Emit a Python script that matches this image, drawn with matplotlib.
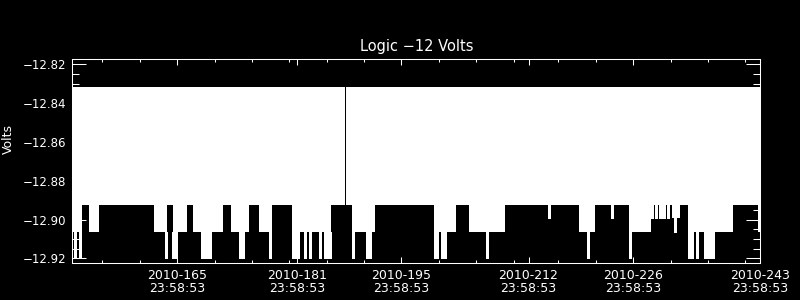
import numpy as np
import matplotlib
matplotlib.use("Agg")
import matplotlib.pyplot as plt
from matplotlib.ticker import FixedLocator

# ---------------- data ----------------
title = "Logic \u221212 Volts"
ylabel = "Volts"

day_start, day_end = 151.0, 243.0          # day-of-year 2010 (at 23:58:53)
level_top = -12.8315     # upper value of the oscillating signal
level_quiet = -12.8925   # lowest value during "quiet" stretches
level_mid = -12.8994     # intermediate quantisation level
level_base = -12.9063    # lowest value during normal stretches
level_dip = -12.9196     # occasional dips

# stretches where the signal only reaches level_quiet
quiet_start = [152.23, 154.54, 163.60, 166.28, 171.09, 174.65, 177.65, 185.58,
               191.46, 202.30, 208.85, 220.89, 228.38, 239.39]
quiet_end = [153.25, 161.90, 164.40, 167.08, 172.20, 175.99, 180.32, 188.35,
             199.36, 204.04, 218.75, 225.44, 233.37, 242.73]
# stretch reaching level_mid
mid_start = [231.23]
mid_end = [232.26]
# data gap
gap_start = [187.41]
gap_end = [187.62]

# isolated dips down to level_dip (from level_base)
dip_days = [151.33, 152.00, 163.47, 164.48, 164.80, 168.28, 168.50, 168.79, 169.06,
            169.33, 173.41, 173.85, 177.42, 180.43, 180.70, 180.96, 181.23, 182.10,
            182.77, 184.11, 184.82, 185.00, 185.22, 185.44, 188.56, 190.35, 190.57,
            190.79, 199.49, 199.72, 200.39, 200.60, 200.83, 206.40, 219.89, 225.61,
            233.50, 233.83, 234.50, 235.61, 235.87, 236.14, 236.41, 236.68]
# dips to level_mid inside quiet stretches
mid_dip_days = [214.78, 223.21, 228.45, 229.08, 229.61, 229.84, 230.14, 230.68]
# dips to level_base inside quiet stretches
base_dip_days = [231.63]

major_days = [165, 181, 195, 212, 226, 243]
major_labels = ["2010-165\n23:58:53", "2010-181\n23:58:53", "2010-195\n23:58:53",
                "2010-212\n23:58:53", "2010-226\n23:58:53", "2010-243\n23:58:53"]
minor_days = [155, 160, 165, 170, 175, 180, 185, 190, 195, 200, 205, 210,
              216, 221, 226, 231, 236, 241]
ytick_values = [-12.82, -12.84, -12.86, -12.88, -12.90, -12.92]
ytick_labels = ["\u221212.82", "\u221212.84", "\u221212.86", "\u221212.88",
                "\u221212.90", "\u221212.92"]
yminor_values = list(np.arange(-12.92, -12.8149, 0.005))
ylim = (-12.9224, -12.8174)

# ---------------- plot ----------------
plt.rcParams['font.family'] = ['DejaVu Sans']
fig = plt.figure(figsize=(8, 3), dpi=100, facecolor='black')
ax = fig.add_axes([0.0906, 0.1233, 0.8598, 0.679])
ax.set_facecolor('black')

edges = sorted(set([day_start, day_end] + quiet_start + quiet_end + mid_start +
                   mid_end + gap_start + gap_end))
lows = []
for a, b in zip(edges[:-1], edges[1:]):
    m = 0.5 * (a + b)
    if any(s < m < e for s, e in zip(gap_start, gap_end)):
        low = level_top
    elif any(s < m < e for s, e in zip(mid_start, mid_end)):
        low = level_mid
    elif any(s < m < e for s, e in zip(quiet_start, quiet_end)):
        low = level_quiet
    else:
        low = level_base
    lows.append(low)
lows.append(lows[-1])
ax.fill_between(edges, level_top, lows, step='post', color='white',
                linewidth=0, antialiased=False, zorder=1)

ax.vlines(dip_days, level_base, level_dip, colors='white', linewidth=0.8,
          antialiased=False, zorder=1.5)
ax.vlines(mid_dip_days, level_quiet, level_mid, colors='white', linewidth=0.8,
          antialiased=False, zorder=1.5)
ax.vlines(base_dip_days, level_mid, level_base, colors='white', linewidth=0.8,
          antialiased=False, zorder=1.5)

ax.set_xlim(day_start, day_end)
ax.set_ylim(*ylim)

ax.set_xticks(major_days)
ax.set_xticklabels(major_labels, fontsize=9, color='white', linespacing=1.05)
ax.xaxis.set_minor_locator(FixedLocator(minor_days))
ax.set_yticks(ytick_values)
ax.set_yticklabels(ytick_labels, fontsize=8.5, color='white')
ax.yaxis.set_minor_locator(FixedLocator(yminor_values))

ax.tick_params(axis='x', which='major', direction='in', length=4.3, width=0.75,
               color='white', top=True, bottom=True, pad=4)
ax.tick_params(axis='x', which='minor', direction='in', length=2.4, width=0.75,
               color='white', top=True, bottom=True)
ax.tick_params(axis='y', which='major', direction='in', length=10, width=0.75,
               color='white', left=True, right=True, pad=4.5)
ax.tick_params(axis='y', which='minor', direction='in', length=5, width=0.75,
               color='white', left=True, right=True)

for sp in ax.spines.values():
    sp.set_color('white')
    sp.set_linewidth(0.75)

ax.set_title(title, color='white', fontsize=10.5, pad=6)
fig.text(0.002, 0.537, ylabel, rotation=90, color='white', fontsize=9,
         ha='left', va='center')

fig.savefig('out.png', dpi=100, facecolor='black')
